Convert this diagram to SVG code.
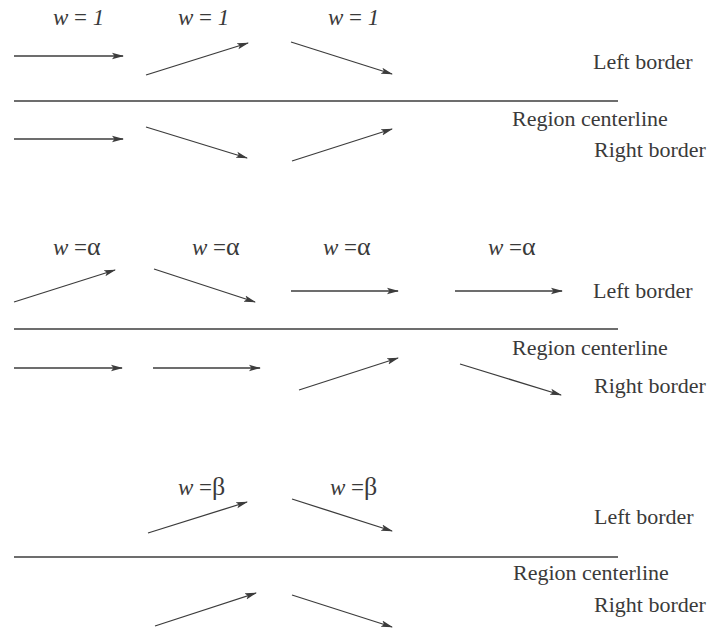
<svg xmlns="http://www.w3.org/2000/svg" width="710" height="628" viewBox="0 0 710 628">
  <style>
    .bg { fill: #ffffff; }
    .vec { stroke: #3c3c3c; stroke-width: 1.3; fill: none; marker-end: url(#head); }
    .axis { stroke: #3c3c3c; stroke-width: 1.3; fill: none; }
    .lbl { font-family: 'Liberation Serif', 'DejaVu Serif', serif; font-size: 22px; fill: #3a3a3a; }
    .wt { font-family: 'Liberation Serif', 'DejaVu Serif', serif; font-size: 23px; fill: #3a3a3a; }
    .it { font-style: italic; }
    .gr { font-size: 26px; }
  </style>
  <defs>
    <marker id="head" viewBox="0 0 12 8" refX="11" refY="4" markerWidth="12" markerHeight="8" markerUnits="userSpaceOnUse" orient="auto">
      <path d="M0,0.8 L12,4 L0,7.2 L2.5,4 Z" fill="#3c3c3c"/>
    </marker>
  </defs>
  <rect class="bg" x="0" y="0" width="710" height="628"/>

  <!-- Panel 1: unit weights -->
  <g id="panel1">
    <g id="p1-weights">
      <text class="wt" x="53" y="25"><tspan class="it">w</tspan> = <tspan class="it">1</tspan></text>
      <text class="wt" x="178" y="25"><tspan class="it">w</tspan> = <tspan class="it">1</tspan></text>
      <text class="wt" x="328" y="25"><tspan class="it">w</tspan> = <tspan class="it">1</tspan></text>
    </g>
    <g id="p1-centerline"><line class="axis" x1="14" y1="101" x2="618" y2="101"/></g>
    <g id="p1-labels">
      <text class="lbl" x="593" y="69">Left border</text>
      <text class="lbl" x="512" y="126">Region centerline</text>
      <text class="lbl" x="594" y="157">Right border</text>
    </g>
    <g id="p1-vectors">
      <line class="vec" x1="14" y1="56" x2="123" y2="56"/>
      <line class="vec" x1="146" y1="75" x2="248" y2="43"/>
      <line class="vec" x1="291" y1="42" x2="392" y2="74"/>
      <line class="vec" x1="14" y1="139" x2="123" y2="139"/>
      <line class="vec" x1="146" y1="127" x2="247" y2="158"/>
      <line class="vec" x1="292" y1="161" x2="392" y2="129"/>
    </g>
  </g>

  <!-- Panel 2: alpha weights -->
  <g id="panel2">
    <g id="p2-weights">
      <text class="wt" x="53" y="255"><tspan class="it">w</tspan> =<tspan class="gr">α</tspan></text>
      <text class="wt" x="192" y="255"><tspan class="it">w</tspan> =<tspan class="gr">α</tspan></text>
      <text class="wt" x="323" y="255"><tspan class="it">w</tspan> =<tspan class="gr">α</tspan></text>
      <text class="wt" x="488" y="255"><tspan class="it">w</tspan> =<tspan class="gr">α</tspan></text>
    </g>
    <g id="p2-centerline"><line class="axis" x1="14" y1="329" x2="618" y2="329"/></g>
    <g id="p2-labels">
      <text class="lbl" x="593" y="298">Left border</text>
      <text class="lbl" x="512" y="355">Region centerline</text>
      <text class="lbl" x="594" y="393">Right border</text>
    </g>
    <g id="p2-vectors">
      <line class="vec" x1="14" y1="302" x2="115" y2="270"/>
      <line class="vec" x1="154" y1="269" x2="255" y2="302"/>
      <line class="vec" x1="291" y1="291" x2="398" y2="291"/>
      <line class="vec" x1="455" y1="291" x2="562" y2="291"/>
      <line class="vec" x1="14" y1="368" x2="122" y2="368"/>
      <line class="vec" x1="153" y1="368" x2="260" y2="368"/>
      <line class="vec" x1="299" y1="390" x2="398" y2="358"/>
      <line class="vec" x1="460" y1="364" x2="561" y2="395"/>
    </g>
  </g>

  <!-- Panel 3: beta weights -->
  <g id="panel3">
    <g id="p3-weights">
      <text class="wt" x="178" y="495"><tspan class="it">w</tspan> =<tspan class="gr">β</tspan></text>
      <text class="wt" x="330" y="495"><tspan class="it">w</tspan> =<tspan class="gr">β</tspan></text>
    </g>
    <g id="p3-centerline"><line class="axis" x1="14" y1="557" x2="618" y2="557"/></g>
    <g id="p3-labels">
      <text class="lbl" x="594" y="524">Left border</text>
      <text class="lbl" x="513" y="580">Region centerline</text>
      <text class="lbl" x="594" y="612">Right border</text>
    </g>
    <g id="p3-vectors">
      <line class="vec" x1="148" y1="533" x2="247" y2="502"/>
      <line class="vec" x1="292" y1="499" x2="392" y2="531"/>
      <line class="vec" x1="155" y1="626" x2="256" y2="593"/>
      <line class="vec" x1="292" y1="595" x2="392" y2="627"/>
    </g>
  </g>
</svg>
